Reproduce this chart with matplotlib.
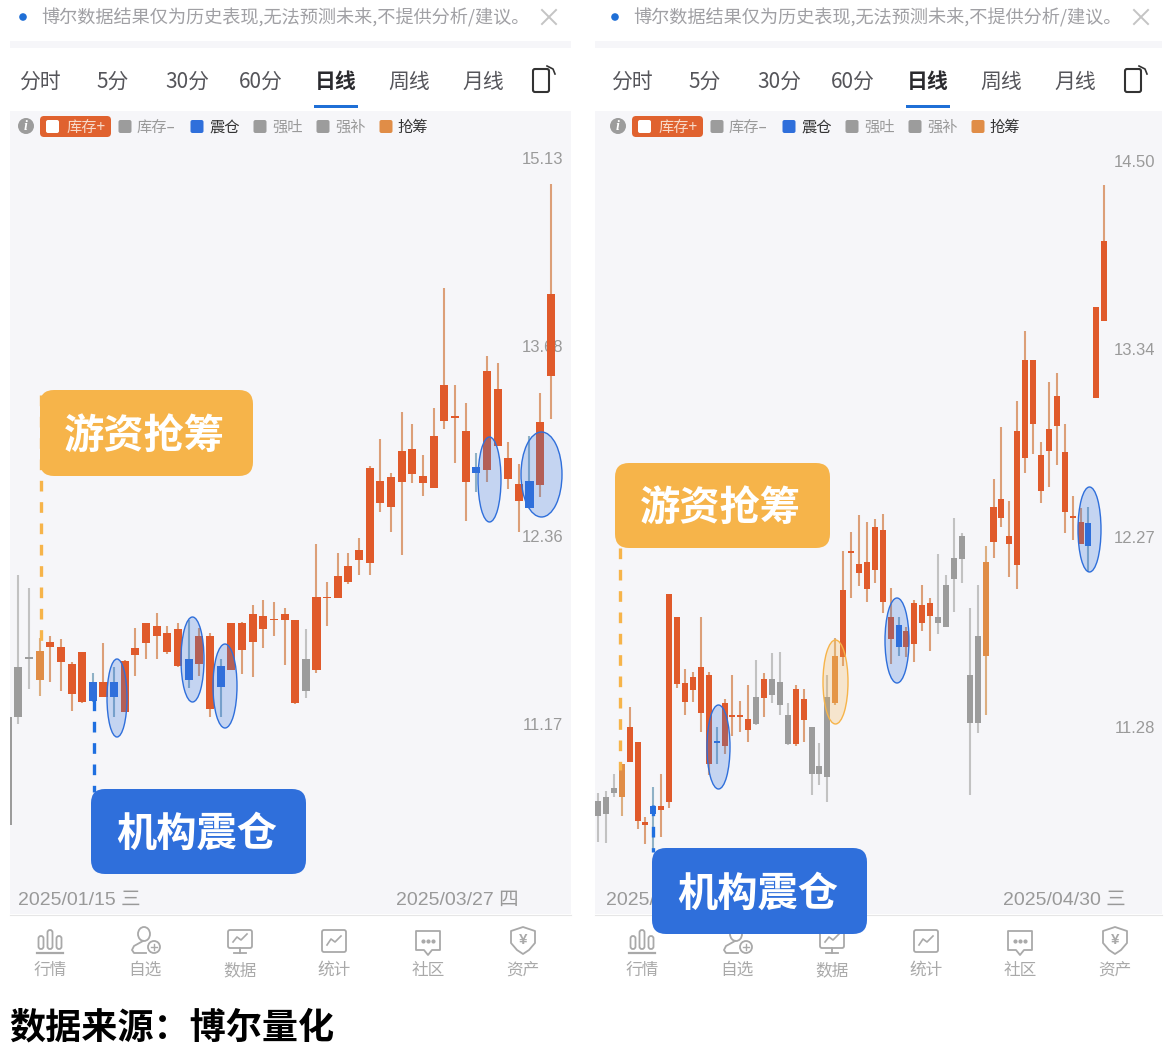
#coding=utf-8
import numpy as np
import matplotlib
matplotlib.use('Agg')
import matplotlib.pyplot as plt
from matplotlib.patches import Rectangle, FancyBboxPatch, Ellipse, Circle, Polygon

plt.rcParams['font.family'] = ['Noto Sans CJK SC', 'DejaVu Sans']

# left chart, one row per candle
leftKinds = 'gggorrrrbrb' + 'rrrrrr' + 'b' + 'rr' + 'b' + 'rrrrrrr' + 'g' + 'rrrrrrrrrrrrrrr' + 'b' + 'rrrr' + 'b' + 'rr'
leftHigh = [11.217, 12.104, 12.020, 11.702, 11.709, 11.696, 11.547, 11.609, 11.479, 11.671, 11.522, 11.565, 11.765, 11.791, 11.860,
            11.778, 11.791, 11.816, 11.765, 11.728, 11.571, 11.797, 11.803, 11.911, 11.943, 11.930, 11.886, 11.816, 11.759, 12.301,
            12.053, 12.248, 12.248, 12.347, 12.833, 13.020, 12.784, 13.209, 13.125, 12.908, 13.238, 14.117, 13.402, 13.273, 12.922,
            13.612, 13.561, 12.999, 12.846, 13.041, 13.345, 14.926]
leftTop = [11.217, 11.522, 11.581, 11.621, 11.677, 11.646, 11.540, 11.609, 11.424, 11.424, 11.424, 11.559, 11.640, 11.791, 11.778,
           11.728, 11.759, 11.571, 11.709, 11.709, 11.528, 11.791, 11.791, 11.854, 11.841, 11.822, 11.854, 11.810, 11.571, 11.962,
           11.962, 12.098, 12.163, 12.268, 12.819, 12.730, 12.757, 12.936, 12.950, 12.764, 13.041, 13.402, 13.181, 13.076, 12.826,
           13.503, 13.373, 12.888, 12.709, 12.730, 13.139, 14.072]
leftBottom = [10.586, 11.217, 11.568, 11.436, 11.646, 11.547, 11.356, 11.302, 11.308, 11.338, 11.338, 11.247, 11.596, 11.671, 11.715,
              11.609, 11.528, 11.436, 11.540, 11.265, 11.399, 11.503, 11.627, 11.677, 11.759, 11.810, 11.810, 11.296, 11.369, 11.503,
              11.950, 11.950, 12.059, 12.202, 12.182, 12.581, 12.554, 12.723, 12.778, 12.716, 12.682, 13.146, 13.167, 12.723, 12.784,
              12.805, 12.971, 12.743, 12.594, 12.547, 12.703, 13.467]
leftLow = [10.586, 11.175, 11.381, 11.344, 11.424, 11.369, 11.253, 11.296, 11.302, 11.338, 11.217, 11.247, 11.466, 11.571, 11.571,
           11.602, 11.522, 11.387, 11.466, 11.217, 11.217, 11.503, 11.473, 11.460, 11.640, 11.709, 11.534, 11.290, 11.326, 11.485,
           11.778, 11.950, 12.040, 12.104, 12.104, 12.520, 12.387, 12.235, 12.716, 12.628, 12.682, 13.090, 12.853, 12.460, 12.655,
           12.723, 12.971, 12.675, 12.387, 12.547, 12.621, 13.160]
leftTicks = [15.13, 13.68, 12.36, 11.17]

# right chart
rightKinds = 'gggorrrbrrrrrrrb' + 'rrrrgrgggrrgggo' + 'rrrrrrrbrrrrggggggo' + 'rrrrrrrrrrrr' + 'brr'
rightHigh = [10.952, 10.961, 11.044, 11.094, 11.378, 11.203, 10.836, 10.981, 11.044, 11.963, 11.842, 11.572, 11.556, 11.842, 11.556,
             11.277, 11.418, 11.541, 11.408, 11.490, 11.618, 11.551, 11.654, 11.659, 11.398, 11.490, 11.469, 11.277, 11.198, 11.541,
             11.732, 12.194, 12.297, 12.390, 12.352, 12.368, 12.396, 11.995, 11.842, 11.789, 11.932, 12.011, 11.942, 12.178, 12.065,
             12.374, 12.292, 11.889, 12.011, 12.221, 12.590, 12.884, 12.468, 13.034, 13.445, 13.273, 12.799, 13.144, 13.197, 12.901,
             12.495, 12.429, 12.435, 13.589, 14.346]
rightTop = [10.913, 10.932, 10.976, 11.094, 11.277, 11.203, 10.812, 10.889, 10.889, 11.963, 11.842, 11.500, 11.531, 11.582, 11.541,
            11.207, 11.398, 11.338, 11.338, 11.317, 11.429, 11.520, 11.520, 11.505, 11.338, 11.469, 11.418, 11.277, 11.084, 11.429,
            11.639, 11.985, 12.194, 12.124, 12.135, 12.325, 12.308, 11.842, 11.800, 11.768, 11.916, 11.905, 11.916, 11.842, 12.011,
            12.156, 12.275, 11.541, 11.742, 12.135, 12.435, 12.479, 12.275, 12.861, 13.273, 13.273, 12.725, 12.873, 13.063, 12.742,
            12.385, 12.352, 12.347, 13.589, 13.993]
rightBottom = [10.840, 10.850, 10.952, 10.932, 11.103, 10.816, 10.797, 10.850, 10.869, 10.908, 11.495, 11.403, 11.464, 11.348, 11.094,
               11.198, 11.183, 11.328, 11.328, 11.262, 11.292, 11.424, 11.439, 11.388, 11.193, 11.193, 11.312, 11.044, 11.044, 11.030,
               11.398, 11.633, 12.183, 12.075, 11.990, 12.092, 11.921, 11.727, 11.685, 11.685, 11.701, 11.810, 11.847, 11.810, 11.789,
               12.043, 12.151, 11.297, 11.297, 11.639, 12.243, 12.374, 12.232, 12.118, 12.708, 12.901, 12.523, 12.748, 12.890, 12.407,
               12.374, 12.232, 12.221, 13.051, 13.505]
rightLow = [10.716, 10.711, 10.932, 10.840, 11.103, 10.778, 10.706, 10.678, 10.740, 10.879, 11.474, 11.338, 11.403, 11.252, 11.040,
            11.094, 11.143, 11.232, 11.252, 11.203, 11.287, 11.328, 11.398, 11.338, 11.188, 11.183, 11.203, 10.942, 10.991, 10.908,
            11.388, 11.587, 11.942, 12.006, 11.921, 12.022, 11.863, 11.597, 11.639, 11.633, 11.608, 11.768, 11.664, 11.753, 11.789,
            11.868, 12.022, 10.942, 11.247, 11.338, 12.156, 12.325, 12.054, 11.990, 12.624, 12.731, 12.457, 12.545, 12.669, 12.292,
            12.254, 12.232, 12.081, 13.051, 13.505]
rightTicks = [14.50, 13.34, 12.27, 11.28]

tabNames = ['分时', '5分', '30分', '60分', '日线', '周线', '月线']
navNames = ['行情', '自选', '数据', '统计', '社区', '资产']
legendNames = ['库存–', '震仓', '强吐', '强补', '抢筹']
notice = '博尔数据结果仅为历史表现,无法预测未来,不提供分析/建议。'
source = '数据来源：博尔量化'

W, H = 1170.0, 1054.0
panelBg = '#f6f6f9'
blue = '#2f6fdb'
amber = '#f6b44a'
bodyColor = {'r': '#e05a2b', 'g': '#9c9c9c', 'b': '#2f6fdb', 'o': '#e08d47'}
wickColor = {'r': '#dc9f78', 'g': '#c2c2c2', 'b': '#8fb1c6', 'o': '#dcae80'}

fig = plt.figure(figsize=(W / 100, H / 100), dpi=100, facecolor='white')


def pixelAxes(zorder):
    ax = fig.add_axes([0, 0, 1, 1], zorder=zorder)
    ax.set_xlim(0, W)
    ax.set_ylim(H, 0)
    ax.axis('off')
    ax.patch.set_alpha(0)
    return ax


back = pixelAxes(0)
front = pixelAxes(5)


def candles(left, right, x0, step, xStart, high, top, bottom, low, kinds, ylim, ticks, tickX):
    ax = fig.add_axes([left / W, 1 - 914 / H, (right - left) / W, (914 - 111) / H], zorder=2)
    ax.patch.set_alpha(0)
    xs = np.arange(len(high)) + xStart
    ax.set_yscale('log')
    ax.vlines(xs, low, high, colors=[wickColor[k] for k in kinds], linewidth=1.5, zorder=2)
    heights = np.array(top) - np.array(bottom)
    ax.bar(xs, heights, bottom=bottom, width=0.76, color=[bodyColor[k] for k in kinds], linewidth=0, zorder=3)
    ax.set_xlim((left - x0) / step, (right - x0) / step)
    ax.set_ylim(*ylim)
    ax.axis('off')
    for t in ticks:
        ax.text(tickX, t, '%.2f' % t, transform=ax.get_yaxis_transform(), ha='right', va='center_baseline',
                fontsize=12, color='#9a9a9a', family=['Liberation Sans'], zorder=1)
    return ax


def roundBox(ax, x1, y1, x2, y2, r, **kw):
    p = FancyBboxPatch((x1 + r, y1 + r), x2 - x1 - 2 * r, y2 - y1 - 2 * r,
                       boxstyle='round,pad=%f,rounding_size=%f' % (r, r), **kw)
    ax.add_patch(p)
    return p


def navIcons(dx):
    c = '#a9a9a9'
    kw = dict(fill=False, ec=c, lw=1.3)
    # bars
    x = 50 + dx
    for bx, top in [(-9, 936), (0, 930), (9, 936)]:
        roundBox(back, x + bx - 2.5, top, x + bx + 2.5, 949, 2.5, **kw)
    back.plot([x - 13, x + 13], [953, 953], color=c, lw=1.6)
    # person
    x = 145 + dx
    back.add_patch(Ellipse((x - 1, 934), 12, 14, **kw))
    back.plot([x - 2, x - 11, x - 13, x - 11, x + 1], [941, 946, 950, 953, 953], color=c, lw=1.3)
    back.add_patch(Circle((x + 9, 947), 6, **kw))
    back.plot([x + 6, x + 12], [947, 947], color=c, lw=1)
    back.plot([x + 9, x + 9], [944, 950], color=c, lw=1)
    # monitor
    x = 240 + dx
    roundBox(back, x - 12, 930, x + 12, 948, 2, **kw)
    back.plot([x - 7, x - 3, x + 1, x + 7], [942, 937, 940, 934], color=c, lw=1.2)
    back.plot([x, x], [948, 953], color=c, lw=1.3)
    back.plot([x - 6, x + 6], [953, 953], color=c, lw=1.3)
    # chart
    x = 334 + dx
    roundBox(back, x - 12, 930, x + 12, 952, 2, **kw)
    back.plot([x - 7, x - 3, x + 1, x + 7], [945, 939, 942, 936], color=c, lw=1.2)
    # chat
    x = 428 + dx
    back.add_patch(Polygon([(x - 12, 931), (x + 12, 931), (x + 12, 950), (x + 4, 950), (x, 955), (x - 4, 950), (x - 12, 950)],
                           joinstyle='round', **kw))
    back.plot([x - 5, x, x + 5], [941, 941, 941], ls='', marker='o', ms=2, color=c)
    # shield
    x = 523 + dx
    back.add_patch(Polygon([(x - 12, 931), (x, 927), (x + 12, 931), (x + 12, 943), (x + 6, 950), (x, 954), (x - 6, 950), (x - 12, 943)],
                           joinstyle='round', **kw))
    back.text(x, 940, '¥', ha='center', va='center', fontsize=11, color=c, family=['Liberation Sans'], fontweight='bold')


def chrome(dx, left, right, dateLeft, dateLeftX, dateRight, dateRightX):
    # notice bar
    back.add_patch(Circle((23 + dx, 17), 3.8, fc='#1f6fd6', ec='none'))
    back.text(41 + dx, 18, notice, ha='left', va='center', fontsize=13.1, color='#a0a0a4')
    back.plot([542 + dx, 556 + dx], [10, 24], color='#c4c4c4', lw=1.4)
    back.plot([542 + dx, 556 + dx], [24, 10], color='#c4c4c4', lw=1.4)
    back.add_patch(Rectangle((left, 41), right - left, 7, fc=panelBg, ec='none'))
    # tabs
    for x, name in zip([40, 113, 187, 261, 336, 409, 483], tabNames):
        active = name == '日线'
        back.text(x + dx, 81.5, name, ha='center', va='center', fontsize=15,
                  color='#2a2a2e' if active else '#55555a', fontweight='bold' if active else 'normal')
    back.add_patch(Rectangle((314 + dx, 105), 44, 3, fc='#1f6fd6', ec='none'))
    roundBox(back, 533 + dx, 69, 549 + dx, 92, 2, fill=False, ec='#333333', lw=1.5)
    back.plot([547 + dx, 553 + dx, 555 + dx], [66, 69, 74], color='#333333', lw=1.2)
    # chart panel
    back.add_patch(Rectangle((left, 111), right - left, 803, fc=panelBg, ec='none'))
    back.plot([left, right], [914.5, 914.5], color='#e6e6e6', lw=0.8)
    # legend row
    back.add_patch(Circle((26 + dx, 126), 8, fc='#9c9c9c', ec='none'))
    back.text(26 + dx, 126, 'i', ha='center', va='center', fontsize=10, color='white', style='italic',
              fontweight='bold', family=['Liberation Serif'])
    roundBox(back, 40 + dx, 116, 111 + dx, 137, 4, fc='#e0622f', ec='none')
    roundBox(back, 46 + dx, 120, 59 + dx, 133, 2, fc='white', ec='none')
    back.text(86 + dx, 127.5, '库存+', ha='center', va='center', fontsize=11, color='#f7d9c8')
    legendRow = [(125, 156, '#9c9c9c', '#9a9a9a'), (197, 225, blue, '#333333'), (260, 288, '#9c9c9c', '#9a9a9a'),
                 (323, 351, '#9c9c9c', '#9a9a9a'), (386, 413, '#e08d47', '#333333')]
    for (sx, tx, col, tcol), name in zip(legendRow, legendNames):
        roundBox(back, sx - 6.5 + dx, 120, sx + 6.5 + dx, 133, 2, fc=col, ec='none')
        back.text(tx + dx, 127.5, name, ha='center', va='center', fontsize=11, color=tcol)
    # dates
    back.text(dateLeftX, 900.5, dateLeft, ha='left', va='center', fontsize=14, color='#999999', family=['Liberation Sans', 'Noto Sans CJK SC'])
    back.text(dateRightX, 900.5, dateRight, ha='right', va='center', fontsize=14, color='#999999', family=['Liberation Sans', 'Noto Sans CJK SC'])
    # bottom navigation
    navIcons(dx)
    for x, name in zip([50, 145, 240, 334, 428, 523], navNames):
        back.text(x + dx, 970.5, name, ha='center', va='center', fontsize=12, color='#a9a9a9')


def callout(x1, y1, x2, y2, color, text):
    roundBox(front, x1, y1, x2, y2, 14, fc=color, ec='none', zorder=6)
    front.text((x1 + x2) / 2.0 - 2, (y1 + y2) / 2.0 + 3, text, ha='center', va='center', fontsize=29,
               fontweight='bold', color='white', zorder=7)


def mark(x1, x2, y1, y2, color):
    front.add_patch(Ellipse(((x1 + x2) / 2.0, (y1 + y2) / 2.0), x2 - x1, y2 - y1,
                            fc=matplotlib.colors.to_rgba(color, 0.25), ec=color, lw=1.0, zorder=3))


chrome(0, 10, 571, '2025/01/15 三', 18, '2025/03/27 四', 519)
chrome(592, 595, 1162, '2025/', 606, '2025/04/30 三', 1126)

candles(10, 571, 18.3, 10.65, -1, leftHigh, leftTop, leftBottom, leftLow, leftKinds, (10.09, 15.52), leftTicks, 0.986)
candles(595, 1162, 598, 7.91, 0, rightHigh, rightTop, rightBottom, rightLow, rightKinds, (10.38, 14.825), rightTicks, 0.988)

for box in [(107, 127, 659, 737), (181, 204, 617, 702), (213, 237, 644, 728), (478, 501, 437, 522), (521, 562, 432, 517),
            (707, 730, 705, 789), (885, 909, 598, 683), (1078, 1101, 487, 572)]:
    mark(box[0], box[1], box[2], box[3], '#2f6fdb')
mark(823, 848, 640, 724, amber)

front.plot([41, 41], [395, 650], color=amber, lw=2.4, ls=(0, (3.2, 3.2)), zorder=4)
front.plot([94, 94], [700, 792], color='#1f6fe0', lw=2.4, ls=(0, (3.2, 3.2)), zorder=4)
front.plot([620, 620], [548, 770], color=amber, lw=2.4, ls=(0, (3.2, 3.2)), zorder=4)
front.plot([653, 653], [805, 852], color='#1f6fe0', lw=2.4, ls=(0, (3.2, 3.2)), zorder=4)

callout(40, 390, 253, 476, amber, '游资抢筹')
callout(91, 789, 306, 874, blue, '机构震仓')
callout(615, 463, 830, 548, amber, '游资抢筹')
callout(652, 848, 867, 934, blue, '机构震仓')

back.text(9, 1028, source, ha='left', va='center', fontsize=26, fontweight='bold', color='black')

fig.savefig('out.png', dpi=100, facecolor='white')
